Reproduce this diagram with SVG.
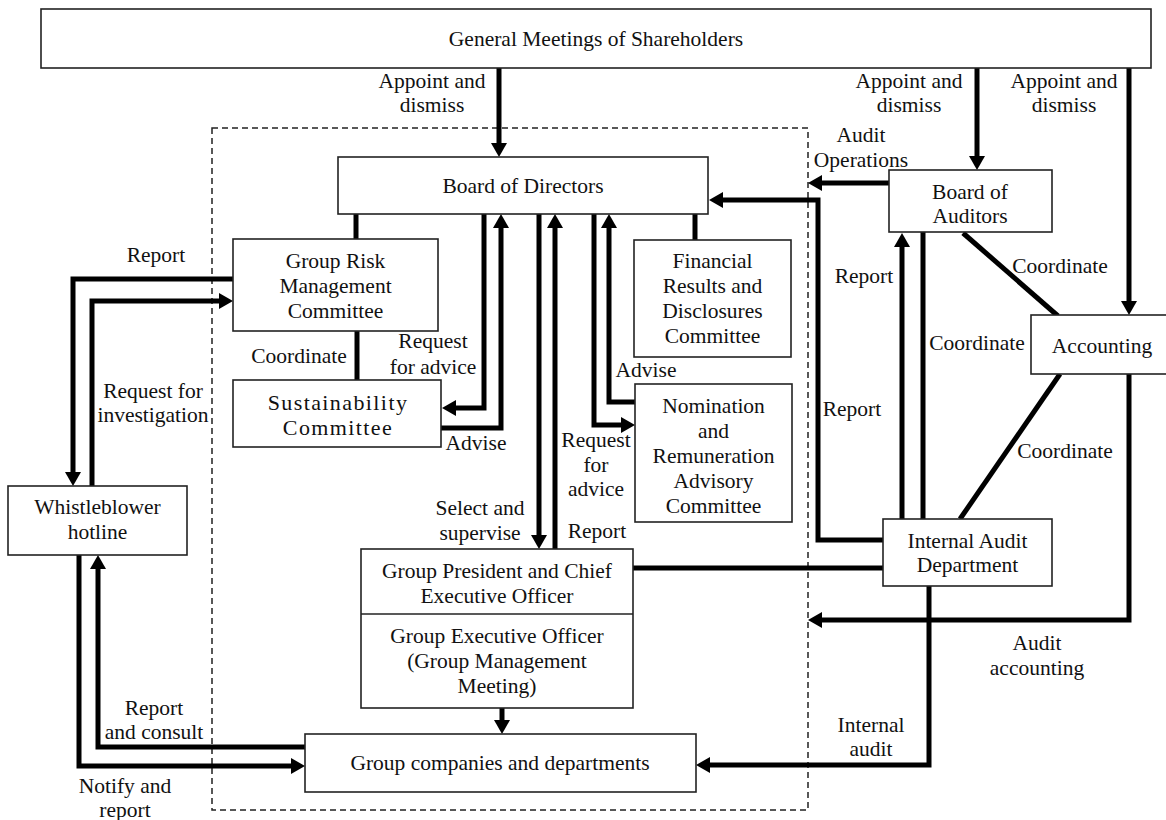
<svg xmlns="http://www.w3.org/2000/svg" width="1166" height="820" viewBox="0 0 1166 820">
<style>
.box{fill:#fff;stroke:#222;stroke-width:1.6}
.t{font-family:"Liberation Serif","Times New Roman",serif;font-size:21.5px;fill:#111;text-anchor:middle}
.sus{font-size:22px;letter-spacing:1.4px}
.c{fill:none;stroke:#000;stroke-width:5;stroke-linejoin:miter}
.a{marker-end:url(#ah)}
.dash{fill:none;stroke:#222;stroke-width:1.5;stroke-dasharray:6 4}
</style>
<defs>
<marker id="ah" markerUnits="userSpaceOnUse" markerWidth="16" markerHeight="16" refX="3" refY="8" orient="auto">
<path d="M0,0 L14,8 L0,16 z" fill="#000"/>
</marker>
</defs>
<rect class="dash" x="212" y="128" width="596" height="682"/>
<g id="connectors">
<path class="c a" d="M499,68 V146"/>
<path class="c a" d="M977,68 V159"/>
<path class="c a" d="M1129,68 V304"/>
<path class="c a" d="M889,183 H819"/>
<path class="c a" d="M883,540 H818 V200 H720"/>
<path class="c a" d="M902,519 V244"/>
<path class="c" d="M923,232 V519"/>
<path class="c" d="M963,233 L1058,316"/>
<path class="c" d="M1060,374 L960,519"/>
<path class="c" d="M883,568 H633"/>
<path class="c a" d="M1129,374 V620 H819"/>
<path class="c a" d="M929,586 V765 H707"/>
<path class="c a" d="M502,708 V723"/>
<path class="c a" d="M539,214 V538"/>
<path class="c a" d="M555,549 V225"/>
<path class="c" d="M356,214 V239"/>
<path class="c" d="M357,331 V380"/>
<path class="c a" d="M484,214 V408 H453"/>
<path class="c a" d="M441,428 H501 V225"/>
<path class="c" d="M695,214 V240"/>
<path class="c a" d="M594,214 V425 H624"/>
<path class="c a" d="M635,402 H609 V225"/>
<path class="c a" d="M233,279 H73 V475"/>
<path class="c a" d="M92,486 V301 H222"/>
<path class="c a" d="M79,555 V766 H294"/>
<path class="c a" d="M305,747 H98 V566"/>
</g>
<g id="labels">
<text class="t" x="432" y="88">Appoint and</text>
<text class="t" x="432" y="112">dismiss</text>
<text class="t" x="909" y="88">Appoint and</text>
<text class="t" x="909" y="112">dismiss</text>
<text class="t" x="1064" y="88">Appoint and</text>
<text class="t" x="1064" y="112">dismiss</text>
<text class="t" x="861" y="142">Audit</text>
<text class="t" x="861" y="167">Operations</text>
<text class="t" x="156" y="262">Report</text>
<text class="t" x="153" y="398">Request for</text>
<text class="t" x="153" y="422">investigation</text>
<text class="t" x="299" y="363">Coordinate</text>
<text class="t" x="433" y="348">Request</text>
<text class="t" x="433" y="374">for advice</text>
<text class="t" x="476" y="450">Advise</text>
<text class="t" x="646" y="377">Advise</text>
<text class="t" x="596" y="447">Request</text>
<text class="t" x="596" y="472">for</text>
<text class="t" x="596" y="496">advice</text>
<text class="t" x="480" y="515">Select and</text>
<text class="t" x="480" y="540">supervise</text>
<text class="t" x="597" y="538">Report</text>
<text class="t" x="864" y="283">Report</text>
<text class="t" x="852" y="416">Report</text>
<text class="t" x="977" y="350">Coordinate</text>
<text class="t" x="1060" y="273">Coordinate</text>
<text class="t" x="1065" y="458">Coordinate</text>
<text class="t" x="1037" y="650">Audit</text>
<text class="t" x="1037" y="675">accounting</text>
<text class="t" x="871" y="732">Internal</text>
<text class="t" x="871" y="756">audit</text>
<text class="t" x="154" y="715">Report</text>
<text class="t" x="154" y="739">and consult</text>
<text class="t" x="125" y="793">Notify and</text>
<text class="t" x="125" y="817">report</text>
</g>
<g id="gm">
<rect class="box" x="41" y="9" width="1110" height="59"/>
<text class="t" x="596" y="46">General Meetings of Shareholders</text>
</g>
<g id="bod">
<rect class="box" x="338" y="157" width="370" height="57"/>
<text class="t" x="523" y="193">Board of Directors</text>
</g>
<g id="boa">
<rect class="box" x="889" y="170" width="163" height="62"/>
<text class="t" x="970" y="199">Board of</text>
<text class="t" x="970" y="223">Auditors</text>
</g>
<g id="accounting">
<rect class="box" x="1031" y="315" width="150" height="59"/>
<text class="t" x="1102" y="353">Accounting</text>
</g>
<g id="grmc">
<rect class="box" x="233" y="239" width="205" height="92"/>
<text class="t" x="335.5" y="268">Group Risk</text>
<text class="t" x="335.5" y="293">Management</text>
<text class="t" x="335.5" y="318">Committee</text>
</g>
<g id="sustainability">
<rect class="box" x="233" y="380" width="208" height="67"/>
<text class="t sus" x="338" y="410">Sustainability</text>
<text class="t sus" x="338" y="435">Committee</text>
</g>
<g id="frdc">
<rect class="box" x="634" y="240" width="157" height="117"/>
<text class="t" x="712.5" y="268">Financial</text>
<text class="t" x="712.5" y="293">Results and</text>
<text class="t" x="712.5" y="318">Disclosures</text>
<text class="t" x="712.5" y="343">Committee</text>
</g>
<g id="nrac">
<rect class="box" x="635" y="384" width="157" height="138"/>
<text class="t" x="713.5" y="413">Nomination</text>
<text class="t" x="713.5" y="438">and</text>
<text class="t" x="713.5" y="463">Remuneration</text>
<text class="t" x="713.5" y="488">Advisory</text>
<text class="t" x="713.5" y="513">Committee</text>
</g>
<g id="iad">
<rect class="box" x="883" y="519" width="169" height="67"/>
<text class="t" x="967.5" y="548">Internal Audit</text>
<text class="t" x="967.5" y="572">Department</text>
</g>
<g id="gp">
<rect class="box" x="361" y="549" width="272" height="159"/>
<line x1="361" y1="614" x2="633" y2="614" stroke="#222" stroke-width="1.6"/>
<text class="t" x="497" y="578">Group President and Chief</text>
<text class="t" x="497" y="603">Executive Officer</text>
<text class="t" x="497" y="643">Group Executive Officer</text>
<text class="t" x="497" y="668">(Group Management</text>
<text class="t" x="497" y="693">Meeting)</text>
</g>
<g id="gc">
<rect class="box" x="305" y="734" width="391" height="58"/>
<text class="t" x="500" y="770">Group companies and departments</text>
</g>
<g id="wb">
<rect class="box" x="8" y="486" width="179" height="69"/>
<text class="t" x="97.5" y="514">Whistleblower</text>
<text class="t" x="97.5" y="539">hotline</text>
</g>
</svg>
